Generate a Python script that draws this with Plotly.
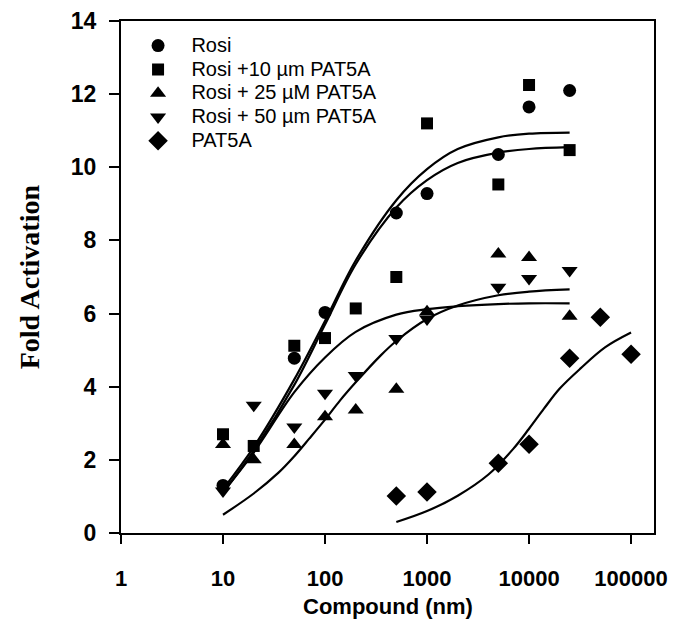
import plotly.graph_objects as go

# --- measured points (fold activation vs compound, nm) ---
conc_rosi = [10, 50, 100, 500, 1000, 5000, 10000, 25000]
rosi = [1.3, 4.78, 6.03, 8.75, 9.28, 10.35, 11.65, 12.1]

conc_pts = [10, 20, 50, 100, 200, 500, 1000, 5000, 10000, 25000]
rosi_pat10 = [2.7, 2.38, 5.12, 5.33, 6.14, 7.0, 11.2, 9.53, 12.25, 10.47]
rosi_pat25 = [2.42, 2.0, 2.42, 3.18, 3.36, 3.93, 6.05, 7.63, 7.53, 5.93]
rosi_pat50 = [1.15, 3.49, 2.9, 3.82, 4.31, 5.32, 5.85, 6.72, 6.96, 7.18]

conc_pat = [500, 1000, 5000, 10000, 25000, 50000, 100000]
pat5a = [1.01, 1.12, 1.91, 2.43, 4.78, 5.9, 4.89]

# --- fitted curves ---
fit_x = [10, 20, 50, 100, 200, 500, 1000, 2000, 5000, 10000, 25000]
fit_upper = [1.2, 2.35, 4.2, 5.8, 7.45, 9.1, 9.95, 10.5, 10.82, 10.92, 10.95]
fit_upper2 = [1.1, 2.25, 4.05, 5.7, 7.35, 8.9, 9.65, 10.12, 10.4, 10.5, 10.55]
fit_flat = [1.12, 2.2, 3.85, 4.8, 5.5, 5.97, 6.12, 6.2, 6.26, 6.28, 6.28]

fit_low_x = [10, 20, 35, 50, 70, 100, 140, 200, 350, 500, 1000, 2000, 5000, 10000, 25000]
fit_low = [0.5, 1.08, 1.65, 2.1, 2.58, 3.1, 3.62, 4.12, 4.85, 5.25, 5.85, 6.22, 6.5, 6.6, 6.66]

fit_pat_x = [500, 1000, 2000, 4000, 7000, 10000, 14000, 20000, 32000, 56000, 100000]
fit_pat = [0.3, 0.6, 1.02, 1.6, 2.3, 2.85, 3.4, 3.95, 4.5, 5.08, 5.48]

x_ticks = [1, 10, 100, 1000, 10000, 100000]
y_ticks = [0, 2, 4, 6, 8, 10, 12, 14]

SANS = "Liberation Sans, Arial, sans-serif"

fig = go.Figure()

# curves first so markers sit on top
for cx, cy in [(fit_x, fit_upper), (fit_x, fit_upper2), (fit_x, fit_flat),
               (fit_low_x, fit_low), (fit_pat_x, fit_pat)]:
    fig.add_trace(go.Scatter(
        x=cx, y=cy, mode="lines", showlegend=False, hoverinfo="skip",
        line=dict(color="black", width=2.2, shape="spline", smoothing=1),
    ))

series = [
    ("Rosi", conc_rosi, rosi, "circle", 13),
    ("Rosi +10 \u00b5m PAT5A", conc_pts, rosi_pat10, "square", 12),
    ("Rosi + 25 \u00b5M PAT5A", conc_pts, rosi_pat25, "triangle-up", 14),
    ("Rosi + 50 \u00b5m PAT5A", conc_pts, rosi_pat50, "triangle-down", 14),
    ("PAT5A", conc_pat, pat5a, "diamond", 15),
]
for name, sx, sy, sym, size in series:
    # nbsp pad widens the symbol-to-text gap, span keeps text big but rows tight
    label = "\u00a0\u00a0\u00a0<span style='font-size:20px'>" + name + "</span>"
    fig.add_trace(go.Scatter(
        x=sx, y=sy, mode="markers", name=label,
        marker=dict(symbol=sym, size=size, color="black"),
    ))

# page body has an 8px margin, so the figure is a little smaller than the window
fig.update_layout(
    width=670,
    height=615,
    margin=dict(l=113, r=24, t=13, b=90),
    paper_bgcolor="white",
    plot_bgcolor="white",
    font=dict(family=SANS, color="black"),
    xaxis=dict(
        type="log", range=[0, 5.225], automargin=False,
        tickvals=x_ticks, ticktext=[str(v) for v in x_ticks],
        ticks="outside", ticklen=9, tickwidth=1.5, tickcolor="black",
        ticklabelstandoff=16,
        showline=True, linecolor="black", linewidth=2, mirror=True,
        showgrid=False, zeroline=False,
        tickfont=dict(family=SANS, size=22, color="black", weight="bold"),
    ),
    yaxis=dict(
        range=[0, 14], tickvals=y_ticks, automargin=False,
        ticks="outside", ticklen=10, tickwidth=1.5, tickcolor="black",
        ticklabelstandoff=8,
        showline=True, linecolor="black", linewidth=2, mirror=True,
        showgrid=False, zeroline=False,
        tickfont=dict(family=SANS, size=23, color="black", weight="bold"),
    ),
    legend=dict(
        x=0.032, y=0.985, xanchor="left", yanchor="top",
        bgcolor="rgba(0,0,0,0)",
        font=dict(family=SANS, size=16, color="black"),
        tracegroupgap=0, itemsizing="trace",
    ),
    annotations=[
        dict(text="<b>Compound (nm)</b>", xref="paper", yref="paper",
             x=0.5, y=-0.143, xanchor="center", yanchor="middle", showarrow=False,
             font=dict(family=SANS, size=22, color="black")),
        dict(text="<b>Fold Activation</b>", xref="paper", yref="paper",
             x=-0.172, y=0.5, xanchor="center", yanchor="middle", showarrow=False,
             textangle=-90,
             font=dict(family="Liberation Serif, Times New Roman, serif", size=28, color="black")),
    ],
)

fig.write_html("out.html")
